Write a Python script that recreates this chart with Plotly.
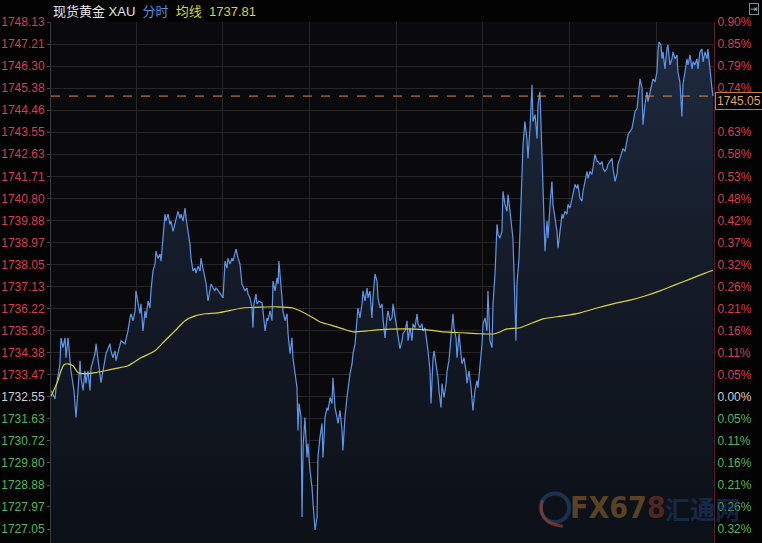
import plotly.graph_objects as go

# ---------------- data ----------------
prev_close = 1732.55

time_min = [
    0.0, 2.8, 3.5, 6.2, 6.9, 8.3, 9.7, 10.4, 11.8, 13.2,
    13.8, 15.9, 17.3, 18.7, 20.1, 20.8, 22.2, 23.5, 24.2, 25.6,
    27.0, 27.7, 30.5, 31.2, 32.5, 33.9, 34.6, 36.0, 38.1, 40.8,
    41.5, 42.9, 44.3, 45.0, 46.4, 48.5, 51.2, 53.3, 54.7, 55.4,
    56.8, 58.2, 58.8, 60.2, 61.6, 62.3, 63.7, 65.1, 65.8, 67.2,
    68.5, 69.2, 70.6, 72.0, 72.7, 74.1, 75.5, 76.2, 77.5, 78.9,
    79.6, 81.0, 82.4, 83.1, 84.5, 85.8, 86.5, 87.9, 89.3, 90.0,
    91.4, 92.8, 93.5, 94.8, 96.2, 96.9, 98.3, 99.7, 100.4, 101.8,
    103.2, 103.8, 105.2, 106.6, 107.3, 108.7, 110.1, 110.8, 112.2, 113.5,
    114.2,
    114.9, 119.1, 120.5, 121.8, 122.5, 123.9, 125.3, 126.0, 128.1, 129.5,
    130.8, 132.2, 134.3, 135.7, 136.4, 137.8, 139.2, 139.8, 140.5, 141.9,
    142.6, 144.0, 146.1, 146.8, 148.2, 149.5, 150.2, 151.6, 153.0, 153.7,
    155.1, 156.5, 157.2, 157.8, 159.2, 159.9, 160.6, 162.0, 163.4, 164.1,
    165.5, 166.8, 167.5, 168.9, 170.3, 171.0, 171.7, 173.1, 173.8, 174.5,
    175.8, 177.2, 177.9, 179.3, 180.7, 181.4, 182.8, 184.2, 184.8, 186.2,
    187.6, 188.3, 189.7, 191.1, 191.8, 193.2, 194.5, 195.2, 196.6, 198.0,
    198.7, 200.1, 201.5, 202.1, 203.5, 204.9, 205.6, 207.0, 208.4, 209.1,
    210.5, 211.8, 212.5, 213.9, 215.3, 216.0, 217.4, 218.8, 219.5, 220.8,
    222.2, 222.9, 224.3, 225.7, 226.4,
    227.8, 229.2, 229.8, 231.2, 232.6, 233.3, 234.7, 236.1, 236.8, 238.2,
    239.5, 240.2, 241.6, 243.0, 243.7, 245.1, 246.5, 247.2, 248.5, 249.9,
    250.6, 252.0, 253.4, 254.1, 255.5, 256.8, 257.5, 258.9, 260.3, 261.0,
    262.4, 263.1, 264.5, 265.2, 266.5, 267.9, 268.6, 270.0, 270.7, 272.1,
    273.5, 274.2, 275.5, 276.9, 278.3, 279.0, 280.4, 281.1, 282.5, 283.8,
    284.5, 285.9, 287.3, 288.0, 289.4, 290.8, 291.5, 292.1, 293.5, 294.9,
    295.6, 297.0, 298.4, 299.1, 300.5, 301.8, 302.5, 303.9,
    305.3, 306.0, 307.4, 308.8, 309.5, 310.8, 312.2, 312.9, 314.3, 315.7,
    316.4, 317.8, 319.1, 319.8, 320.5, 321.9, 322.6, 324.0, 324.7, 326.1,
    326.8, 328.1, 329.5, 330.2, 331.6, 333.0, 333.7, 335.1, 336.5, 337.1,
    338.5, 339.9, 340.6, 342.0, 343.4, 344.1, 345.5, 346.8, 347.5, 348.9,
    350.3, 351.0, 352.4, 353.8, 354.5, 355.8, 357.2, 357.9, 359.3, 360.7,
    361.4, 362.8, 364.2, 364.8, 366.2, 367.6, 368.3, 369.7, 371.1, 371.8,
    373.2, 374.5, 375.2, 376.6, 378.0, 378.7, 380.1, 381.5, 382.2, 383.5,
    384.9, 385.6, 387.0, 388.4, 389.1, 390.5, 391.8, 392.5, 393.9, 395.3,
    396.0, 397.4, 398.8,
    399.5, 402.2, 404.3, 405.7, 406.4, 407.8, 409.2, 409.8, 411.2, 412.6,
    413.3, 414.7, 416.1, 416.8, 418.2, 419.5, 420.2, 420.9, 422.3, 423.0,
    423.7, 425.0, 426.4, 427.1, 428.5, 429.9, 430.6, 432.0, 433.4, 434.0,
    435.4, 436.1, 436.8, 437.5, 438.9, 440.3, 441.0, 442.4, 443.8, 444.5,
    445.8, 447.2, 447.9, 449.3, 450.7, 451.4, 452.8, 454.2, 454.8, 456.2,
    457.6, 458.3,
]

price = [
    1732.81, 1732.47, 1732.93, 1733.92, 1735.00, 1734.59, 1735.00, 1734.17, 1735.00, 1734.05,
    1733.63, 1732.81, 1731.69, 1732.81, 1734.05, 1733.34, 1732.81, 1733.63, 1733.10, 1733.63,
    1732.81, 1733.76, 1734.34, 1734.75, 1734.17, 1733.51, 1733.14, 1733.63, 1734.34, 1734.75,
    1734.46, 1734.17, 1734.46, 1734.05, 1734.34, 1734.88, 1734.75, 1735.29, 1735.83, 1736.00,
    1735.71, 1736.12, 1736.95, 1736.53, 1736.00, 1736.41, 1735.29, 1736.12, 1735.83, 1736.53,
    1736.24, 1736.95, 1737.78, 1738.07, 1738.60, 1738.31, 1738.48, 1738.19, 1739.31, 1740.14,
    1739.85, 1740.14, 1739.72, 1739.85, 1739.43, 1739.72, 1739.97, 1740.26, 1739.97, 1740.14,
    1739.85, 1740.39, 1739.97, 1739.43, 1738.89, 1738.31, 1737.78, 1737.90, 1737.69, 1737.98,
    1737.78, 1738.31, 1737.90, 1737.49, 1737.28, 1736.53, 1736.95, 1737.24, 1737.07, 1736.95,
    1737.07,
    1737.03, 1736.66, 1738.19, 1737.90, 1738.31, 1738.07, 1738.31, 1738.19, 1738.69, 1738.31,
    1738.07, 1737.24, 1736.95, 1737.07, 1736.82, 1736.66, 1736.24, 1735.42, 1736.41, 1736.82,
    1736.41, 1736.53, 1736.45, 1736.12, 1735.29, 1735.83, 1735.71, 1736.12, 1735.71, 1737.36,
    1736.95, 1737.49, 1737.24, 1738.19, 1737.36, 1736.66, 1736.12, 1735.71, 1736.00, 1735.17,
    1734.34, 1735.00, 1734.17, 1733.51, 1732.93, 1731.15, 1732.27, 1731.69, 1727.55, 1730.45,
    1731.69, 1730.03, 1730.61, 1729.49, 1728.79, 1728.13, 1727.01, 1727.55, 1730.03, 1730.86,
    1731.44, 1730.03, 1731.69, 1732.10, 1731.98, 1732.52, 1732.27, 1733.34, 1732.10, 1731.69,
    1731.44, 1731.98, 1731.15, 1730.32, 1731.69, 1732.52, 1732.93, 1733.51, 1733.92, 1734.34,
    1734.75, 1735.71, 1736.24, 1735.83, 1736.41, 1736.95, 1736.53, 1737.07, 1736.66, 1736.95,
    1735.83, 1736.66, 1737.65, 1737.36, 1736.66,
    1736.24, 1736.41, 1735.83, 1735.00, 1735.83, 1736.12, 1735.71, 1735.83, 1736.41, 1735.83,
    1735.29, 1735.00, 1734.55, 1734.88, 1735.17, 1735.29, 1735.71, 1734.88, 1735.42, 1734.88,
    1735.58, 1735.42, 1736.00, 1735.58, 1735.42, 1735.58, 1735.29, 1735.42, 1734.88, 1734.46,
    1733.63, 1732.27, 1734.17, 1734.46, 1733.92, 1733.34, 1732.81, 1732.10, 1733.10, 1732.52,
    1733.10, 1733.63, 1734.05, 1735.17, 1736.00, 1735.42, 1735.00, 1734.17, 1735.17, 1734.34,
    1733.92, 1734.17, 1733.63, 1733.10, 1733.63, 1732.93, 1732.52, 1731.98, 1732.81, 1733.22,
    1732.93, 1733.76, 1734.75, 1735.58, 1735.83, 1735.29, 1736.95, 1734.88,
    1734.59, 1736.41, 1737.65, 1739.72, 1739.31, 1739.14, 1739.43, 1741.09, 1740.55, 1740.26,
    1740.96, 1740.26, 1739.43, 1739.14, 1737.78, 1734.88, 1737.24, 1738.31, 1739.43, 1742.33,
    1743.04, 1743.99, 1743.28, 1742.46, 1743.70, 1745.52, 1743.99, 1744.28, 1743.28, 1744.69,
    1745.23, 1742.62, 1740.96, 1738.60, 1739.85, 1739.14, 1740.55, 1741.50, 1740.55, 1739.97,
    1739.43, 1738.73, 1739.56, 1740.14, 1739.97, 1740.26, 1740.14, 1740.55, 1740.39, 1740.80,
    1741.09, 1741.38, 1741.21, 1741.38, 1740.80, 1740.68, 1741.09, 1741.50, 1741.92, 1741.63,
    1741.92, 1741.79, 1742.04, 1742.62, 1742.33, 1742.33, 1742.21, 1742.33, 1742.04, 1741.92,
    1742.04, 1742.21, 1742.33, 1742.46, 1742.04, 1741.50, 1741.79, 1742.21, 1742.46, 1742.75,
    1742.87, 1742.75, 1743.16,
    1743.45, 1743.70, 1744.40, 1744.53, 1744.94, 1745.77, 1745.36, 1743.86, 1744.69, 1745.23,
    1744.82, 1745.23, 1745.64, 1745.77, 1745.64, 1746.06, 1746.89, 1747.30, 1747.18, 1746.60,
    1746.89, 1746.18, 1747.01, 1747.18, 1746.35, 1746.60, 1746.89, 1746.60, 1746.76, 1746.06,
    1745.64, 1744.94, 1744.20, 1745.52, 1746.18, 1746.60, 1746.35, 1746.76, 1746.18, 1746.47,
    1746.35, 1746.60, 1746.18, 1746.89, 1747.01, 1746.47, 1746.89, 1746.60, 1747.01, 1746.06,
    1745.36, 1745.05,
]

avg_time = [
    0.0, 4.8, 6.9, 9.0, 11.8, 15.2, 18.7, 23.5, 30.5, 37.4,
    44.3, 53.3, 62.3, 72.0, 78.9, 85.8, 92.8, 99.7, 106.6, 115.6,
    132.9, 156.5, 167.5, 179.3, 186.2, 193.2, 202.1, 209.1, 218.8, 225.7,
    243.7, 260.3, 271.4, 285.2, 297.0, 307.4, 315.7, 324.7, 340.6, 354.5,
    366.2, 378.0, 389.1, 400.9, 411.2, 421.6, 432.0, 442.4, 452.8, 458.3,
]
avg_price = [
    1732.56, 1733.22, 1733.63, 1733.88, 1733.92, 1733.84, 1733.55, 1733.51, 1733.55, 1733.63,
    1733.72, 1733.84, 1734.17, 1734.46, 1734.88, 1735.29, 1735.71, 1735.91, 1736.00, 1736.04,
    1736.24, 1736.29, 1736.24, 1735.91, 1735.66, 1735.54, 1735.37, 1735.25, 1735.29, 1735.33,
    1735.37, 1735.33, 1735.25, 1735.21, 1735.17, 1735.17, 1735.37, 1735.42, 1735.79, 1735.91,
    1736.04, 1736.24, 1736.41, 1736.57, 1736.74, 1736.95, 1737.20, 1737.44, 1737.69, 1737.81,
]

price_ticks = [1748.13, 1747.21, 1746.30, 1745.38, 1744.46, 1743.55, 1742.63, 1741.71,
               1740.80, 1739.88, 1738.97, 1738.05, 1737.13, 1736.22, 1735.30, 1734.38,
               1733.47, 1732.55, 1731.63, 1730.72, 1729.80, 1728.88, 1727.97, 1727.05]
pct_labels = ["0.90%", "0.85%", "0.79%", "0.74%", "", "0.63%", "0.58%", "0.53%",
              "0.48%", "0.42%", "0.37%", "0.32%", "0.26%", "0.21%", "0.16%", "0.11%",
              "0.05%", "0.00%", "0.05%", "0.11%", "0.16%", "0.21%", "0.26%", "0.32%"]
hour_marks = [59, 119, 179, 239, 299, 359, 419]

y_range = [1726.47, 1748.13]
x_range = [0, 459]

# ---------------- styling ----------------
RED = "#dc3a52"
GREEN = "#4cb85f"
GREY = "#cfcfcf"


def tick_color(v):
    if abs(v - prev_close) < 1e-6:
        return GREY
    return RED if v > prev_close else GREEN


left_text = [f"<span style='color:{tick_color(v)}'>{v:.2f}</span>" for v in price_ticks]
right_text = [f"<span style='color:{tick_color(v)}'>{t}</span>" for v, t in zip(price_ticks, pct_labels)]

fig = go.Figure()

fig.add_trace(go.Scatter(
    x=time_min, y=price, mode="lines",
    line=dict(color="#5f96e8", width=1.2),
    fill="tozeroy",
    fillgradient=dict(type="vertical", start=y_range[0], stop=y_range[1],
                      colorscale=[[0, "#0c1017"], [0.55, "#151c29"], [1, "#1f2b41"]]),
    hoverinfo="skip", showlegend=False,
))
fig.add_trace(go.Scatter(
    x=avg_time, y=avg_price, mode="lines",
    line=dict(color="#d9d23f", width=1.2, shape="spline", smoothing=0.6),
    hoverinfo="skip", showlegend=False,
))
# anchor trace for the right-hand percentage axis
fig.add_trace(go.Scatter(
    x=[time_min[0]], y=[prev_close], yaxis="y2", mode="markers",
    marker=dict(opacity=0), hoverinfo="skip", showlegend=False,
))

last_price = price[-1]
fig.add_shape(type="line", xref="paper", x0=0, x1=1, yref="y", y0=last_price, y1=last_price,
              line=dict(color="#e08a40", width=1, dash="dash"))

# watermark (drawn before the labels)
fig.add_shape(type="circle", xref="paper", yref="paper",
              x0=0.7385, x1=0.7815, y0=0.04, y1=0.095, line=dict(color="rgba(40,75,130,0.55)", width=4))
fig.add_shape(type="path", xref="paper", yref="paper",
              path="M 0.741 0.082 Q 0.733 0.037 0.772 0.032",
              line=dict(color="rgba(170,70,40,0.6)", width=3))
fig.add_annotation(
    xref="paper", x=0.855, yref="paper", y=0.068, xanchor="center", yanchor="middle",
    showarrow=False,
    text="<b>FX67<span style='color:rgba(160,60,38,0.7)'>8</span></b>",
    font=dict(family="Liberation Sans Narrow, DejaVu Sans Condensed, Liberation Sans", size=30,
              color="rgba(125,88,42,0.7)"),
)
fig.add_annotation(
    xref="paper", x=0.983, yref="paper", y=0.068, xanchor="center", yanchor="middle",
    showarrow=False, text="<b>汇通网</b>",
    font=dict(family="Noto Sans CJK SC", size=25, color="rgba(30,58,105,0.6)"),
)

fig.add_annotation(
    xref="paper", x=1, yref="y", y=last_price, xanchor="left", yanchor="middle",
    text=f"{last_price:.2f}", showarrow=False, xshift=1, yshift=-5,
    font=dict(family="Liberation Sans, Arial", size=12, color="#e8a468"),
    bgcolor="#000000", bordercolor="#c57b45", borderwidth=1, borderpad=1,
)

fig.add_annotation(
    xref="paper", x=0, yref="paper", y=1, xanchor="left", yanchor="middle",
    xshift=0, yshift=11, showarrow=False,
    text=("<span style='color:#e6e6e6'>现货黄金 XAU</span>  "
          "<span style='color:#4f8fe6'>分时</span>  "
          f"<span style='color:#d9d23f'>均线  {avg_price[-1]:.2f}</span>"),
    font=dict(family="Liberation Sans, Noto Sans CJK SC", size=13, color="#e6e6e6"),
)
# small toolbar icon
fig.add_annotation(
    xref="paper", x=1, yref="paper", y=1, xanchor="left", yanchor="bottom",
    xshift=35, yshift=7, showarrow=False, text="⇥",
    font=dict(family="DejaVu Sans", size=9, color="#bbbbbb"),
    bordercolor="#888888", borderwidth=1, borderpad=0,
)

fig.update_layout(
    width=762, height=543,
    margin=dict(l=51, r=48, t=22, b=0),
    paper_bgcolor="#030303",
    plot_bgcolor="#0a0a0d",
    showlegend=False,
    xaxis=dict(range=x_range, tickvals=hour_marks, showticklabels=False, showgrid=True,
               gridcolor="#262626", gridwidth=1, zeroline=False, showline=False, ticks=""),
    yaxis=dict(range=y_range, tickvals=price_ticks, ticktext=left_text, showgrid=True,
               gridcolor="#262626", gridwidth=1, zeroline=False, showline=True,
               linecolor="#3a3a3a", linewidth=1, ticks="outside", ticklen=3, tickcolor="#4a4a4a",
               tickfont=dict(family="Liberation Sans, Arial", size=12, color=GREY)),
    yaxis2=dict(range=y_range, overlaying="y", side="right", tickvals=price_ticks,
                ticktext=right_text, showgrid=False, zeroline=False, showline=True,
                linecolor="#5a1f26", linewidth=1, ticks="",
                tickfont=dict(family="Liberation Sans, Arial", size=12, color=GREY)),
)

fig.write_html(
    "out.html",
    config={"displayModeBar": False},
    post_script="document.body.style.margin='0';document.body.style.overflow='hidden';"
                "document.body.style.background='#030303';",
)
